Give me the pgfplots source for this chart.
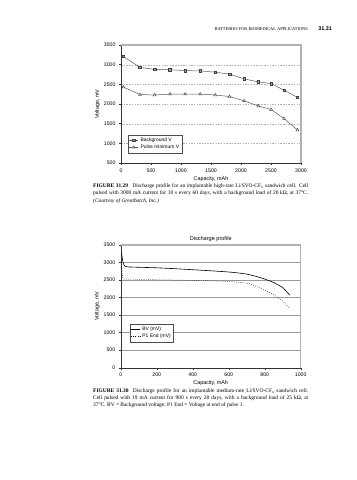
\documentclass[border=0pt]{standalone}
\usepackage{fontspec}
\setmainfont{Liberation Serif}
\newfontfamily\chartfont{Liberation Sans}
\usepackage{pgfplots}
\pgfplotsset{compat=1.18}
\pgfplotsset{
  pagechart/.style={
    scale only axis,
    width=180bp,
    axis x line*=bottom,
    axis y line*=left,
    axis line style={black!80, line width=0.4pt},
    tick align=outside,
    major tick length=2bp,
    tick style={black!80, line width=0.4pt},
    /pgf/number format/1000 sep={},
    /pgf/number format/assume math mode=true,
    ticklabel style={font=\chartfont\fontsize{5.2}{6}\selectfont},
    label style={font=\chartfont\fontsize{5.4}{6}\selectfont},
    xtick pos=bottom, ytick pos=left,
    legend cell align=left,
    legend style={font=\chartfont\fontsize{5.0}{5.5}\selectfont, draw=black!70, line width=0.4pt, inner sep=0.8pt, row sep=-2pt, fill=white},
    legend image code/.code={\draw[mark repeat=2,mark phase=2,##1] plot coordinates {(0bp,0bp) (4.5bp,0bp) (9bp,0bp)};},
    after end axis/.code={\draw[black!30, line width=1.1pt] (rel axis cs:0,1) -- (rel axis cs:1,1) -- (rel axis cs:1,0);},
  }
}
\begin{document}
\begin{tikzpicture}
\path (0,0) rectangle (357bp,-480bp);
% header
\node[anchor=east, inner sep=0pt, font=\fontsize{4.4}{5}\selectfont] at (308bp,-29bp) {BATTERIES FOR BIOMEDICAL APPLICATIONS};
\node[anchor=east, inner sep=0pt, font=\chartfont\bfseries\fontsize{5.4}{6}\selectfont] at (332bp,-29bp) {31.31};

% chart 1
\begin{axis}[pagechart,
  height=118bp,
  at={(121bp,-163bp)}, anchor=south west,
  xmin=0, xmax=3000, ymin=500, ymax=3500,
  xtick={0,500,...,3000}, ytick={500,1000,...,3500},
  ymajorgrids, grid style={dash pattern=on 1.5bp off 1.2bp, black!30, line width=0.3pt},
  xlabel={Capacity, mAh}, ylabel={Voltage, mV},
  xlabel style={at={(axis description cs:0.5,-0.136)}, anchor=center},
  ylabel style={at={(axis description cs:-0.13,0.5)}, anchor=center, rotate=0},
  legend style={at={(0.039,0.085)}, anchor=south west},
]
\addplot[black!65, line width=0.5pt, mark=square*, mark size=1.3bp, mark options={fill=black!35, draw=black!75}] coordinates {
(39,3210) (316,2930) (561,2880) (817,2870) (1070,2850) (1320,2840) (1570,2810) (1808,2760) (2052,2640) (2290,2560) (2501,2520) (2718,2350) (2940,2170)};
\addlegendentry{Background V}
\addplot[black!65, line width=0.5pt, mark=triangle*, mark size=1.6bp, mark options={fill=white, draw=black!70}] coordinates {
(39,2430) (316,2240) (561,2230) (817,2250) (1070,2250) (1320,2250) (1570,2230) (1808,2190) (2052,2080) (2290,1950) (2501,1860) (2718,1630) (2940,1340)};
\addlegendentry{Pulse minimum V}
\end{axis}

\node[anchor=north west, inner sep=0pt, text width=215bp, align=justify, font=\fontsize{5.45}{7.3}\selectfont] at (93bp,-183.5bp)
{\textbf{FIGURE 31.29}\hspace{0.8em}Discharge profile for an implantable high-rate Li/SVO-CF\textsubscript{x} sandwich cell. Cell\linebreak
pulsed with 3000 mA current for 10 s every 60 days, with a background load of 20 kΩ, at 37°C.\linebreak
\textit{(Courtesy of Greatbatch, Inc.)}};

% chart 2
\begin{axis}[pagechart,
  height=122.7bp,
  at={(120.7bp,-367.7bp)}, anchor=south west,
  xmin=0, xmax=1000, ymin=0, ymax=3500,
  xtick={0,200,...,1000}, ytick={0,500,...,3500},
  ymajorgrids, grid style={solid, black!40, line width=0.4pt},
  xlabel={Capacity, mAh}, ylabel={Voltage, mV},
  xlabel style={at={(axis description cs:0.5,-0.125)}, anchor=center},
  ylabel style={at={(axis description cs:-0.13,0.5)}, anchor=center, rotate=0},
  title={Discharge profile},
  title style={font=\chartfont\fontsize{5.6}{6}\selectfont, at={(axis description cs:0.5,1.045)}, anchor=center, yshift=0pt},
  every axis title shift=0pt,
  legend style={at={(0.05,0.21)}, anchor=south west},
]
\addplot[black, line width=0.6pt] coordinates {
(2,3260) (5,3270) (8,3150) (12,3020) (18,2930) (25,2890) (40,2875) (100,2865) (200,2850) (300,2825) (400,2795) (500,2765) (600,2730) (650,2705) (700,2670) (750,2610) (800,2530) (850,2430) (900,2290) (940,2070)};
\addlegendentry{BV (mV)}
\addplot[black, line width=0.5pt, dash pattern=on 0.6bp off 1.6bp] coordinates {
(3,2950) (6,2800) (9,2650) (13,2540) (20,2530) (100,2520) (300,2500) (500,2480) (600,2460) (680,2430) (720,2390) (760,2310) (800,2220) (850,2080) (900,1900) (940,1690)};
\addlegendentry{P1 End (mV)}
\end{axis}

\node[anchor=north west, inner sep=0pt, text width=215bp, align=justify, font=\fontsize{5.45}{7.3}\selectfont] at (93bp,-388bp)
{\textbf{FIGURE 31.30}\hspace{0.8em}Discharge profile for an implantable medium-rate Li/SVO-CF\textsubscript{x} sandwich cell.\linebreak
Cell pulsed with 19 mA current for 900 s every 28 days, with a background load of 25 kΩ, at\linebreak
37°C. BV = Background voltage; P1 End = Voltage at end of pulse 1.};
\end{tikzpicture}
\end{document}
